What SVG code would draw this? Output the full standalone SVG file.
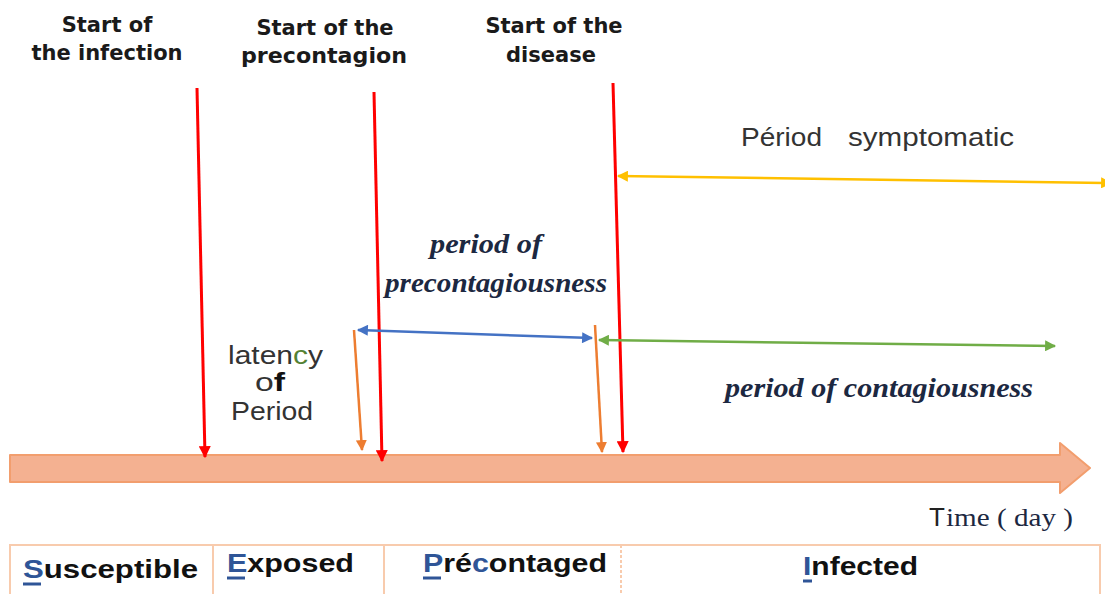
<svg xmlns="http://www.w3.org/2000/svg" width="1105" height="594" viewBox="0 0 1105 594">
<style>
.hdr{font-family:"DejaVu Sans","Liberation Sans",sans-serif;font-weight:bold;font-size:21px;fill:#1a1a1a;text-anchor:middle}
.ital{font-family:"Liberation Serif","Times New Roman",serif;font-weight:bold;font-style:italic;font-size:28px;fill:#1c2841}
.sans{font-family:"Liberation Sans",Arial,sans-serif;font-size:25px;fill:#333}
.cell{font-family:"Liberation Sans",Arial,sans-serif;font-weight:bold;font-size:26px;fill:#111}
.blue{fill:#2F5597}
.red{stroke:#FF0000;stroke-width:3;fill:none}
.org{stroke:#ED7D31;stroke-width:2.5;fill:none}
.ul{stroke:#2F5597;stroke-width:3}
.grid{stroke:#F8CBAD;stroke-width:2;fill:none}
</style>
<defs>
<marker id="mRed" viewBox="0 0 10 10" refX="9" refY="5" markerWidth="12" markerHeight="12" markerUnits="userSpaceOnUse" orient="auto"><path d="M0,0 L10,5 L0,10 z" fill="#FF0000"/></marker>
<marker id="mOrg" viewBox="0 0 10 10" refX="9" refY="5" markerWidth="11" markerHeight="12" markerUnits="userSpaceOnUse" orient="auto"><path d="M0,0 L10,5 L0,10 z" fill="#ED7D31"/></marker>
<marker id="mBlue" viewBox="0 0 10 10" refX="9" refY="5" markerWidth="13" markerHeight="11" markerUnits="userSpaceOnUse" orient="auto-start-reverse"><path d="M0,0 L10,5 L0,10 z" fill="#4472C4"/></marker>
<marker id="mGreen" viewBox="0 0 10 10" refX="9" refY="5" markerWidth="13" markerHeight="11" markerUnits="userSpaceOnUse" orient="auto-start-reverse"><path d="M0,0 L10,5 L0,10 z" fill="#70AD47"/></marker>
<marker id="mYel" viewBox="0 0 10 10" refX="9" refY="5" markerWidth="13" markerHeight="11" markerUnits="userSpaceOnUse" orient="auto-start-reverse"><path d="M0,0 L10,5 L0,10 z" fill="#FFC000"/></marker>
</defs>

<g id="timeline">
<path d="M10,455 L1060,455 L1060,443 L1090,468 L1060,493 L1060,482 L10,482 Z" fill="#F4B191" stroke="#F29E6E" stroke-width="2" stroke-linejoin="round"/>
</g>

<g id="connectors">
<line class="red" x1="197" y1="88" x2="205" y2="457" marker-end="url(#mRed)"/>
<line class="red" x1="374" y1="92" x2="382" y2="461" marker-end="url(#mRed)"/>
<line class="red" x1="613" y1="83" x2="623" y2="452" marker-end="url(#mRed)"/>
<line class="org" x1="354" y1="330" x2="362" y2="450" marker-end="url(#mOrg)"/>
<line class="org" x1="595" y1="325" x2="602" y2="452" marker-end="url(#mOrg)"/>
<line x1="358" y1="330" x2="592" y2="338" stroke="#4472C4" stroke-width="2.5" marker-start="url(#mBlue)" marker-end="url(#mBlue)"/>
<line x1="599" y1="340" x2="1055" y2="346" stroke="#70AD47" stroke-width="2.5" marker-start="url(#mGreen)" marker-end="url(#mGreen)"/>
<line x1="618" y1="176" x2="1111" y2="183" stroke="#FFC000" stroke-width="2.5" marker-start="url(#mYel)" marker-end="url(#mYel)"/>
</g>

<g id="start-infection">
<text class="hdr" x="107" y="32">Start of</text>
<text class="hdr" x="107" y="60">the infection</text>
</g>
<g id="start-precontagion">
<text class="hdr" x="325" y="35">Start of the</text>
<text class="hdr" x="324" y="63" textLength="166" lengthAdjust="spacingAndGlyphs">precontagion</text>
</g>
<g id="start-disease">
<text class="hdr" x="554" y="33">Start of the</text>
<text class="hdr" x="551" y="62">disease</text>
</g>

<g id="period-symptomatic">
<text class="sans" x="741" y="146" textLength="81" lengthAdjust="spacingAndGlyphs">Périod</text>
<text class="sans" x="848" y="146" textLength="166" lengthAdjust="spacingAndGlyphs">symptomatic</text>
</g>

<g id="period-precontagiousness">
<text class="ital" x="430" y="253" textLength="112" lengthAdjust="spacingAndGlyphs">period of</text>
<text class="ital" x="385" y="292" textLength="222" lengthAdjust="spacingAndGlyphs">precontagiousness</text>
</g>

<g id="period-contagiousness">
<text class="ital" x="725" y="397" textLength="308" lengthAdjust="spacingAndGlyphs">period of contagiousness</text>
</g>

<g id="latency">
<text class="sans" x="228" y="364" textLength="95" lengthAdjust="spacingAndGlyphs">laten<tspan fill="#548235">c</tspan>y</text>
<text class="sans" x="255" y="391" textLength="30" lengthAdjust="spacingAndGlyphs">o<tspan font-weight="bold" fill="#111">f</tspan></text>
<text class="sans" x="231" y="420" textLength="82" lengthAdjust="spacingAndGlyphs">Period</text>
</g>

<g id="time-label">
<text x="929" y="526" font-family="Liberation Sans,Arial,sans-serif" font-size="26" fill="#222">T</text>
<text x="946" y="526" font-family="Liberation Serif,Times New Roman,serif" font-size="25" fill="#1c2841" textLength="127" lengthAdjust="spacingAndGlyphs">ime ( day )</text>
</g>

<g id="states-table">
<rect class="grid" x="10" y="545" width="1090" height="60"/>
<line class="grid" x1="213" y1="545" x2="213" y2="594"/>
<line class="grid" x1="384" y1="545" x2="384" y2="594"/>
<line class="grid" x1="621" y1="545" x2="621" y2="594" stroke-dasharray="3,2"/>
</g>
<g id="state-susceptible">
<text class="cell" x="23" y="578" textLength="175" lengthAdjust="spacingAndGlyphs"><tspan class="blue">S</tspan>usceptible</text>
<line class="ul" x1="23" y1="584" x2="41" y2="584"/>
</g>
<g id="state-exposed">
<text class="cell" x="227" y="572" textLength="127" lengthAdjust="spacingAndGlyphs"><tspan class="blue">E</tspan>xposed</text>
<line class="ul" x1="227" y1="578" x2="245" y2="578"/>
</g>
<g id="state-precontaged">
<text class="cell" x="423" y="572" textLength="184" lengthAdjust="spacingAndGlyphs"><tspan class="blue">P</tspan>ré<tspan class="blue">c</tspan>ontaged</text>
<line class="ul" x1="423" y1="578" x2="441" y2="578"/>
</g>
<g id="state-infected">
<text class="cell" x="803" y="575" textLength="115" lengthAdjust="spacingAndGlyphs"><tspan class="blue">I</tspan>nfected</text>
<line class="ul" x1="803" y1="581" x2="812" y2="581"/>
</g>
</svg>
